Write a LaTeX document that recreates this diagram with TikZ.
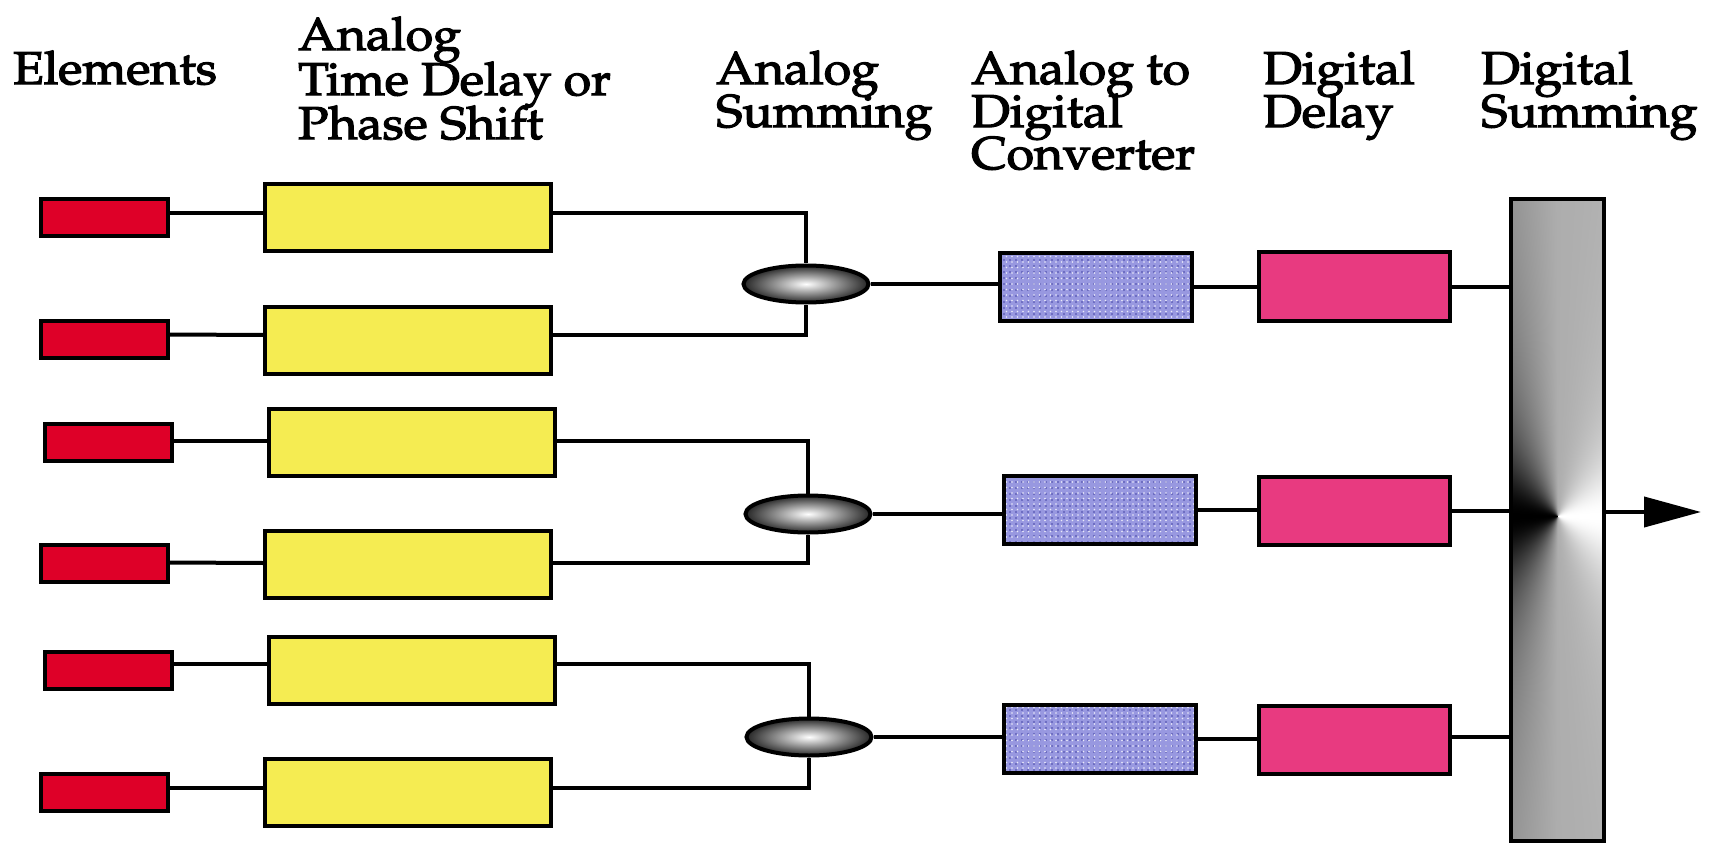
\documentclass[tikz,border=0pt]{standalone}
\usepackage[T1]{fontenc}
\usepackage{graphicx}
\renewcommand{\rmdefault}{ppl}
\usetikzlibrary{arrows.meta,shapes.geometric,patterns.meta}

\definecolor{elemred}{RGB}{222,0,40}
\definecolor{delayyellow}{RGB}{245,236,82}
\definecolor{adcblue}{RGB}{152,152,224}
\definecolor{adcdot}{RGB}{96,96,184}
\definecolor{ddpink}{RGB}{232,58,128}

% conic grey shading of the digital summing bar: dark to the left of the
% output point, white to its right, mid grey above and below
\pgfdeclarefunctionalshading{sumcone}{\pgfpoint{-50bp}{-50bp}}{\pgfpoint{50bp}{50bp}}{}{
  0.31 sub 6.66 mul exch atan cos
  dup 0 lt
  {0.68 mul 0.68 add}
  {dup sqrt mul 0.32 mul 0.68 add}
  ifelse
  dup dup
}

% heading text: slightly heavier strokes, slightly compressed vertically
\newcommand{\hdrfont}{\fontsize{50}{41}\selectfont}
\newcommand{\hdr}[1]{\special{pdf:literal direct 2 Tr 1.3 w}\scalebox{1}[0.92]{#1}\special{pdf:literal direct 0 Tr}}

\tikzset{
  wire/.style={line width=4pt},
  box/.style={rectangle, draw=black, line width=4pt, inner sep=0pt},
  elem/.style={box, fill=elemred, minimum width=127pt, minimum height=37pt},
  tdelay/.style={box, fill=delayyellow, minimum width=286pt, minimum height=67pt},
  asum/.style={ellipse, draw=black, line width=4pt, inner sep=0pt,
    minimum width=125pt, minimum height=37pt, inner color=white, outer color=black!85},
  adc/.style={box, minimum width=192pt, minimum height=68pt,
    preaction={fill=adcblue},
    preaction={pattern={Dots[distance=6pt,radius=1.2pt,xshift=2pt,yshift=3pt]}, pattern color=adcdot},
    pattern={Dots[distance=5.5pt,radius=0.9pt]}, pattern color=white!80!adcblue},
  ddelay/.style={box, fill=ddpink, minimum width=191pt, minimum height=68pt},
  dsum/.style={box, shading=sumcone, minimum width=93pt, minimum height=642pt},
  hdr/.style={anchor=base west, inner sep=0pt, font=\hdrfont},
}

\begin{document}
\begin{tikzpicture}[x=1pt,y=-1pt]
  \fill[white] (0,0) rectangle (1714,845);
  \useasboundingbox (0,0) rectangle (1714,845);

  % column headings
  \node[hdr] (hElem) at (13,84) {\hdr{Elements}};
  \node[hdr] (hTdA) at (298,50) {\hdr{Analog}};
  \node[hdr] (hTdB) at (298,95) {\hdr{Time Delay or}};
  \node[hdr] (hTdC) at (298,139) {\hdr{Phase Shift}};
  \node[hdr] (hAsA) at (716,84) {\hdr{Analog}};
  \node[hdr] (hAsB) at (716,127) {\hdr{Summing}};
  \node[hdr] (hAdA) at (971,84) {\hdr{Analog to}};
  \node[hdr] (hAdB) at (971,127) {\hdr{Digital}};
  \node[hdr] (hAdC) at (971,169) {\hdr{Converter}};
  \node[hdr] (hDdA) at (1263,84) {\hdr{Digital}};
  \node[hdr] (hDdB) at (1263,127) {\hdr{Delay}};
  \node[hdr] (hDsA) at (1481,84) {\hdr{Digital}};
  \node[hdr] (hDsB) at (1481,127) {\hdr{Summing}};

  % array elements
  \node[elem] (r1) at (104.5,217.5) {};
  \node[elem] (r2) at (104.5,339.5) {};
  \node[elem] (r3) at (108.5,442) {};
  \node[elem] (r4) at (104.5,563.5) {};
  \node[elem] (r5) at (108.5,670) {};
  \node[elem] (r6) at (104.5,792.5) {};

  % analog time delay / phase shift
  \node[tdelay] (t1) at (408,217.5) {};
  \node[tdelay] (t2) at (408,340) {};
  \node[tdelay] (t3) at (412,442) {};
  \node[tdelay] (t4) at (408,564) {};
  \node[tdelay] (t5) at (412,670) {};
  \node[tdelay] (t6) at (408,792.5) {};

  % analog summing junctions
  \node[asum] (s1) at (806,284) {};
  \node[asum] (s2) at (808,514) {};
  \node[asum] (s3) at (809,737) {};

  % A/D converters and digital delays
  \node[adc] (a1) at (1096,287) {};
  \node[adc] (a2) at (1100,510) {};
  \node[adc] (a3) at (1100,738.5) {};
  \node[ddelay] (d1) at (1354.5,286.5) {};
  \node[ddelay] (d2) at (1354,510.5) {};
  \node[ddelay] (d3) at (1354,739.5) {};

  % digital summing bar and beam output
  \node[dsum] (bar) at (1557.5,520) {};
  \coordinate (out) at (1701,512);

  % element to delay
  \draw[wire] ([yshift=4.5pt]r1.east) -- ([yshift=4.5pt]t1.west);
  \draw[wire] ([yshift=5pt]r2.east) -- ([yshift=5pt]t2.west);
  \draw[wire] ([yshift=1pt]r3.east) -- ([yshift=1pt]t3.west);
  \draw[wire] ([yshift=1pt]r4.east) -- ([yshift=1pt]t4.west);
  \draw[wire] ([yshift=6pt]r5.east) -- ([yshift=6pt]t5.west);
  \draw[wire] ([yshift=4.5pt]r6.east) -- ([yshift=4.5pt]t6.west);

  % delay pairs into the summing junctions
  \draw[wire] ([yshift=4.5pt]t1.east) -| (s1.north);
  \draw[wire] ([yshift=5pt]t2.east) -| (s1.south);
  \draw[wire] ([yshift=1pt]t3.east) -| (s2.north);
  \draw[wire] ([yshift=1pt]t4.east) -| (s2.south);
  \draw[wire] ([yshift=6pt]t5.east) -| (s3.north);
  \draw[wire] ([yshift=4.5pt]t6.east) -| (s3.south);

  % junction -> ADC -> digital delay -> summing bar
  \draw[wire] (s1.east) -- (s1.east -| a1.west);
  \draw[wire] (s2.east) -- (s2.east -| a2.west);
  \draw[wire] (s3.east) -- (s3.east -| a3.west);
  \draw[wire] (a1.east) -- (a1.east -| d1.west);
  \draw[wire] (a2.east) -- (a2.east -| d2.west);
  \draw[wire] (a3.east) -- (a3.east -| d3.west);
  \draw[wire] (d1.east) -- (d1.east -| bar.west);
  \draw[wire] (d2.east) -- (d2.east -| bar.west);
  \draw[wire] ([yshift=3pt]d3.east) -- ([yshift=3pt]d3.east -| bar.west);

  % output
  \draw[wire, -{Triangle[length=57pt,width=30pt]}] (bar.east |- out) -- (out);
\end{tikzpicture}
\end{document}
